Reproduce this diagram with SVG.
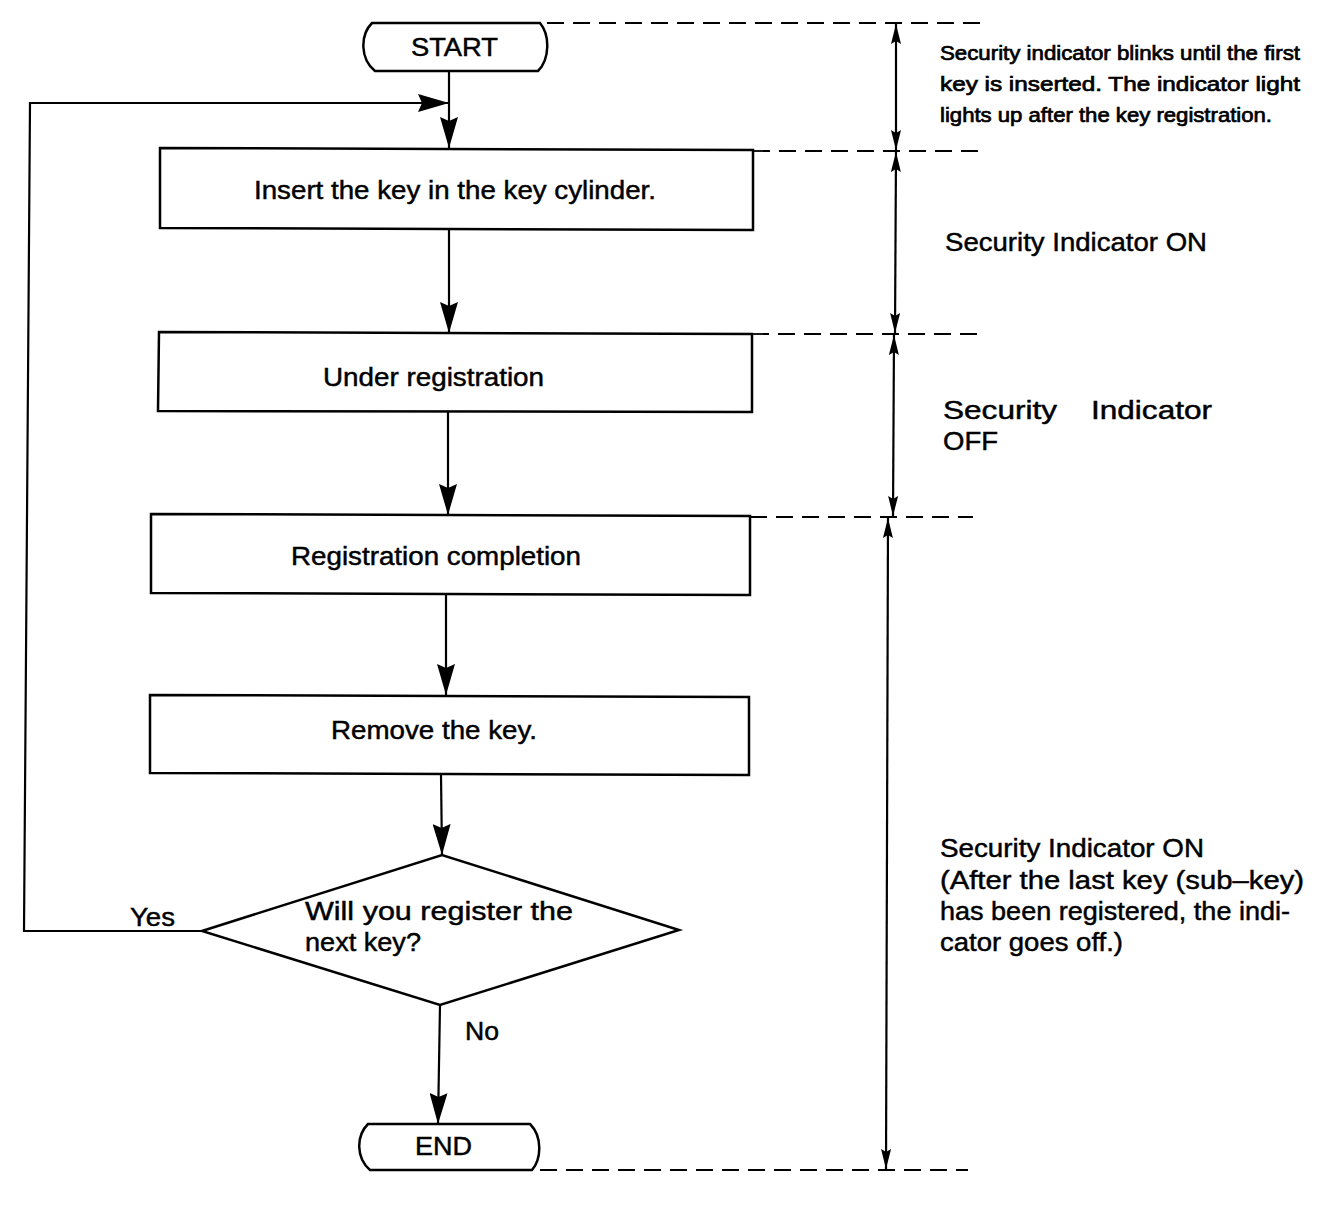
<svg xmlns="http://www.w3.org/2000/svg" width="1328" height="1206" viewBox="0 0 1328 1206">
<style>
.shape{fill:#fff;stroke:#000;stroke-width:2.5}
.conn{fill:none;stroke:#000;stroke-width:2.2}
.dim{fill:none;stroke:#000;stroke-width:2.2}
.dash{fill:none;stroke:#000;stroke-width:1.8;stroke-dasharray:17 9}
text{font-family:"Liberation Sans",Arial,sans-serif;fill:#000;stroke:#000;stroke-width:0.45}
.lbl{font-size:25px}
.note{font-size:20px;stroke-width:0.7}
.big{font-size:25px}
</style>
<defs>
<marker id="ah" markerWidth="32" markerHeight="18" refX="31" refY="9" orient="auto" markerUnits="userSpaceOnUse">
<path d="M0,0 L31,9 L0,18 L4,9 Z" fill="#000"/>
</marker>
<marker id="dh" markerWidth="20" markerHeight="10" refX="20" refY="5" orient="auto-start-reverse" markerUnits="userSpaceOnUse">
<path d="M0,0 L20,5 L0,10 L3,5 Z" fill="#000"/>
</marker>
</defs>
<rect width="1328" height="1206" fill="#fff"/>

<g id="connectors">
<line class="conn" x1="449" y1="71" x2="449" y2="148" marker-end="url(#ah)"/>
<polyline class="conn" points="202,931 24,931 30,103 449,103" marker-end="url(#ah)"/>
<line class="conn" x1="449" y1="230" x2="449" y2="333" marker-end="url(#ah)"/>
<line class="conn" x1="448" y1="412" x2="448" y2="515" marker-end="url(#ah)"/>
<line class="conn" x1="446" y1="595" x2="446" y2="695" marker-end="url(#ah)"/>
<line class="conn" x1="441" y1="775" x2="442" y2="855" marker-end="url(#ah)"/>
<line class="conn" x1="440" y1="1005" x2="438" y2="1124" marker-end="url(#ah)"/>
<text class="lbl" x="130" y="926" textLength="45" lengthAdjust="spacingAndGlyphs">Yes</text>
<text class="lbl" x="465" y="1040" textLength="34" lengthAdjust="spacingAndGlyphs">No</text>
</g>

<g id="dimensions">
<line class="dash" x1="547" y1="23" x2="980" y2="23"/>
<line class="dash" x1="753" y1="151" x2="985" y2="151"/>
<line class="dash" x1="752" y1="334" x2="980" y2="334"/>
<line class="dash" x1="750" y1="517" x2="973" y2="517"/>
<line class="dash" x1="540" y1="1170" x2="968" y2="1170"/>
<line class="dim" x1="896" y1="24" x2="896" y2="150" marker-start="url(#dh)" marker-end="url(#dh)"/>
<line class="dim" x1="896" y1="152" x2="895" y2="333" marker-start="url(#dh)" marker-end="url(#dh)"/>
<line class="dim" x1="894" y1="335" x2="893" y2="516" marker-start="url(#dh)" marker-end="url(#dh)"/>
<line class="dim" x1="888" y1="518" x2="886" y2="1169" marker-start="url(#dh)" marker-end="url(#dh)"/>
</g>

<g id="note1">
<text class="note" x="940" y="60" textLength="360" lengthAdjust="spacingAndGlyphs">Security indicator blinks until the first</text>
<text class="note" x="940" y="91" textLength="360" lengthAdjust="spacingAndGlyphs">key is inserted. The indicator light</text>
<text class="note" x="940" y="122" textLength="332" lengthAdjust="spacingAndGlyphs">lights up after the key registration.</text>
</g>
<g id="note2">
<text class="big" x="945" y="251" textLength="262" lengthAdjust="spacingAndGlyphs">Security Indicator ON</text>
</g>
<g id="note3">
<text class="big" y="419"><tspan x="943" textLength="114" lengthAdjust="spacingAndGlyphs">Security</tspan> <tspan x="1091" textLength="121" lengthAdjust="spacingAndGlyphs">Indicator</tspan></text>
<text class="big" x="943" y="450" textLength="55" lengthAdjust="spacingAndGlyphs">OFF</text>
</g>
<g id="note4">
<text class="big" x="940" y="857" textLength="264" lengthAdjust="spacingAndGlyphs">Security Indicator ON</text>
<text class="big" x="940" y="889" textLength="364" lengthAdjust="spacingAndGlyphs">(After the last key (sub–key)</text>
<text class="big" x="940" y="920" textLength="350" lengthAdjust="spacingAndGlyphs">has been registered, the indi-</text>
<text class="big" x="940" y="951" textLength="183" lengthAdjust="spacingAndGlyphs">cator goes off.)</text>
</g>

<g id="start">
<path class="shape" d="M372,23 L540,23 C550,35 550,59 538,71 L375,71 C360,59 360,35 372,23 Z"/>
<text class="lbl" x="411" y="56" textLength="87" lengthAdjust="spacingAndGlyphs">START</text>
</g>
<g id="insert">
<path class="shape" d="M160,148 L753,150 L753,230 L160,228 Z"/>
<text class="lbl" x="254" y="199" textLength="402" lengthAdjust="spacingAndGlyphs">Insert the key in the key cylinder.</text>
</g>
<g id="under">
<path class="shape" d="M159,332 L752,334 L752,412 L158,411 Z"/>
<text class="lbl" x="323" y="386" textLength="221" lengthAdjust="spacingAndGlyphs">Under registration</text>
</g>
<g id="completion">
<path class="shape" d="M151,514 L750,516 L750,595 L151,593 Z"/>
<text class="lbl" x="291" y="565" textLength="290" lengthAdjust="spacingAndGlyphs">Registration completion</text>
</g>
<g id="remove">
<path class="shape" d="M150,695 L749,697 L749,775 L150,773 Z"/>
<text class="lbl" x="331" y="739" textLength="206" lengthAdjust="spacingAndGlyphs">Remove the key.</text>
</g>
<g id="decision">
<polygon class="shape" points="202,931 442,855 679,930 440,1005"/>
<text class="lbl" x="305" y="920" textLength="268" lengthAdjust="spacingAndGlyphs">Will you register the</text>
<text class="lbl" x="305" y="951" textLength="116" lengthAdjust="spacingAndGlyphs">next key?</text>
</g>
<g id="end">
<path class="shape" d="M368,1124 L530,1124 C542,1136 542,1158 532,1170 L370,1170 C356,1158 356,1136 368,1124 Z"/>
<text class="lbl" x="415" y="1155" textLength="57" lengthAdjust="spacingAndGlyphs">END</text>
</g>
</svg>
